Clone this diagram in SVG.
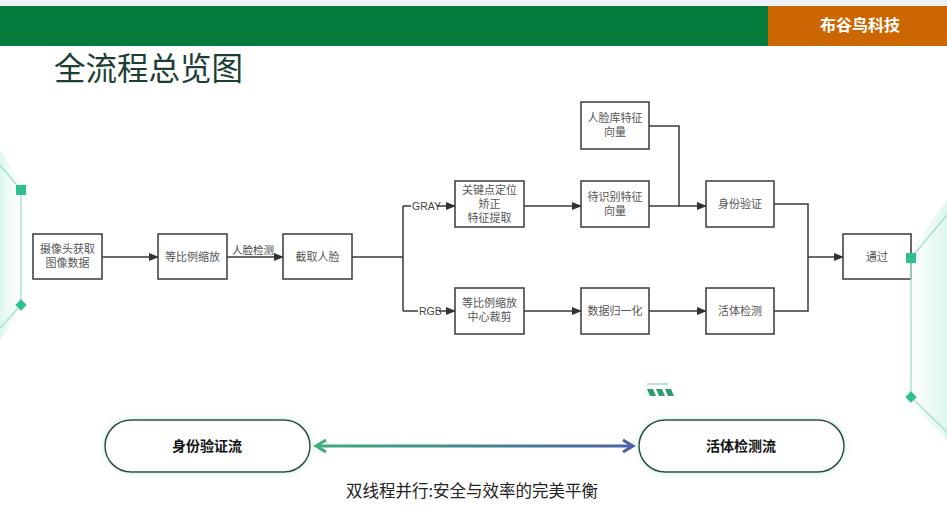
<svg xmlns="http://www.w3.org/2000/svg" width="947" height="530" viewBox="0 0 947 530">
<defs>
<style>
.box{fill:#fff;stroke:#3a3a3a;stroke-width:1.5}
.t{font-family:"Liberation Sans","Noto Sans CJK SC",sans-serif;font-size:11px;fill:#555;text-anchor:middle}
.lbl{font-family:"Liberation Sans","Noto Sans CJK SC",sans-serif;font-size:10.5px;fill:#444}
.ln{fill:none;stroke:#3a3a3a;stroke-width:1.5}
.deco{stroke:#a8e2cc;stroke-width:1.5;fill:none}
.pill{fill:#fff;stroke:#2d4a42;stroke-width:1.5}
.pt{font-family:"Noto Sans CJK SC",sans-serif;font-size:14px;font-weight:bold;fill:#111;text-anchor:middle}
</style>
<marker id="ah" markerWidth="10" markerHeight="8" refX="9" refY="4" orient="auto" markerUnits="userSpaceOnUse">
<path d="M0,0 L10,4 L0,8 z" fill="#333"/>
</marker>
<linearGradient id="grad" x1="315" y1="0" x2="635" y2="0" gradientUnits="userSpaceOnUse">
<stop offset="0" stop-color="#3fae7c"/>
<stop offset="1" stop-color="#4a5fa8"/>
</linearGradient>
<linearGradient id="gl" x1="0" y1="0" x2="1" y2="0">
<stop offset="0" stop-color="#e6f8f0" stop-opacity="0"/>
<stop offset="1" stop-color="#d8f6ea" stop-opacity="0.9"/>
</linearGradient>
<linearGradient id="glL" x1="0" y1="0" x2="1" y2="0">
<stop offset="0" stop-color="#d8f6ea" stop-opacity="0.9"/>
<stop offset="1" stop-color="#e6f8f0" stop-opacity="0"/>
</linearGradient>
<filter id="glow" x="-10%" y="-30%" width="120%" height="160%">
<feDropShadow dx="0" dy="0" stdDeviation="3" flood-color="#9fe3c6" flood-opacity="0.6"/>
</filter>
</defs>

<rect width="947" height="530" fill="#fff"/>
<rect width="947" height="6" fill="#eef2f8"/>

<!-- header -->
<g id="header">
<rect x="0" y="6" width="768" height="40" fill="#047a3c"/>
<rect x="768" y="6" width="179" height="40" fill="#cc6600"/>
<text x="860" y="31" font-family="Noto Sans CJK SC,sans-serif" font-size="16" font-weight="bold" fill="#fff" text-anchor="middle">布谷鸟科技</text>
</g>
<text x="54" y="80" font-family="Noto Sans CJK SC,sans-serif" font-size="31.5" fill="#1d3f33">全流程总览图</text>

<!-- decorations -->
<g id="deco-left">
<polygon points="0,150 22,185 22,308 0,340" fill="url(#glL)"/>
<path class="deco" d="M0,165 L21,190 L21,305 L0,328"/>
<rect x="16" y="185" width="10" height="10" fill="#2ec28a"/>
<rect x="17" y="301" width="8" height="8" fill="#2ec28a" transform="rotate(45 21 305)"/>
</g>
<g id="deco-right-bg">
<polygon points="947,200 911,250 905,400 947,440" fill="url(#gl)"/>
</g>

<!-- connectors -->
<g id="connectors">
<line class="ln" x1="102" y1="257" x2="158" y2="257" marker-end="url(#ah)"/>
<line class="ln" x1="227" y1="257" x2="283" y2="257" marker-end="url(#ah)"/>
<text class="lbl" x="232" y="254">人脸检测</text>
<path class="ln" d="M352,257 H403 M403,206 V311 M403,206 H411 M403,311 H418"/>
<text class="lbl" x="412" y="210">GRAY</text>
<text class="lbl" x="419" y="315">RGB</text>
<line class="ln" x1="437" y1="206" x2="455" y2="206" marker-end="url(#ah)"/>
<line class="ln" x1="439" y1="311" x2="455" y2="311" marker-end="url(#ah)"/>
<line class="ln" x1="524" y1="206" x2="581" y2="206" marker-end="url(#ah)"/>
<line class="ln" x1="524" y1="311" x2="581" y2="311" marker-end="url(#ah)"/>
<line class="ln" x1="649" y1="206" x2="706" y2="206" marker-end="url(#ah)"/>
<path class="ln" d="M649,126 H679 V206"/>
<line class="ln" x1="649" y1="311" x2="706" y2="311" marker-end="url(#ah)"/>
<path class="ln" d="M774,204 H808 V311 H774"/>
<line class="ln" x1="808" y1="257" x2="843" y2="257" marker-end="url(#ah)"/>
</g>

<!-- nodes -->
<g id="n-camera"><rect class="box" x="33" y="234" width="69" height="45"/><text class="t" x="67.5" y="253">摄像头获取</text><text class="t" x="67.5" y="267">图像数据</text></g>
<g id="n-scale"><rect class="box" x="158" y="234" width="69" height="45"/><text class="t" x="192.5" y="261">等比例缩放</text></g>
<g id="n-crop"><rect class="box" x="283" y="234" width="69" height="45"/><text class="t" x="317.5" y="261">截取人脸</text></g>
<g id="n-keypoint"><rect class="box" x="455" y="181" width="69" height="46"/><text class="t" x="489.5" y="194">关键点定位</text><text class="t" x="489.5" y="208">矫正</text><text class="t" x="489.5" y="222">特征提取</text></g>
<g id="n-scalecrop"><rect class="box" x="455" y="288" width="69" height="46"/><text class="t" x="489.5" y="307">等比例缩放</text><text class="t" x="489.5" y="321">中心裁剪</text></g>
<g id="n-facedb"><rect class="box" x="581" y="102" width="68" height="47"/><text class="t" x="615" y="122">人脸库特征</text><text class="t" x="615" y="136">向量</text></g>
<g id="n-feature"><rect class="box" x="581" y="181" width="68" height="46"/><text class="t" x="615" y="201">待识别特征</text><text class="t" x="615" y="215">向量</text></g>
<g id="n-norm"><rect class="box" x="581" y="288" width="68" height="46"/><text class="t" x="615" y="315">数据归一化</text></g>
<g id="n-verify"><rect class="box" x="706" y="181" width="68" height="46"/><text class="t" x="740" y="208">身份验证</text></g>
<g id="n-live"><rect class="box" x="706" y="288" width="68" height="46"/><text class="t" x="740" y="315">活体检测</text></g>
<g id="n-pass"><rect class="box" x="843" y="234" width="68" height="45"/><text class="t" x="877" y="261">通过</text></g>

<g id="deco-right">
<path class="deco" d="M947,215 L911,258 L911,397 L947,432"/>
<rect x="906" y="253" width="10" height="10" fill="#2ec28a"/>
<rect x="907" y="393" width="8" height="8" fill="#2ec28a" transform="rotate(45 911 397)"/>
</g>

<!-- bottom -->
<g id="deco-dashes">
<line x1="647" y1="384" x2="668" y2="384" stroke="#7fbfa6" stroke-width="1"/>
<polygon points="647,389 653,389 656,396 650,396" fill="#2e9e6e"/>
<polygon points="656,389 662,389 665,396 659,396" fill="#2e9e6e"/>
<polygon points="665,389 671,389 674,396 668,396" fill="#2e9e6e"/>
</g>
<g id="p-verify"><rect class="pill" x="105" y="420" width="205" height="52" rx="26" filter="url(#glow)"/><text class="pt" x="207" y="451">身份验证流</text></g>
<g id="p-live"><rect class="pill" x="639" y="420" width="205" height="52" rx="26" filter="url(#glow)"/><text class="pt" x="741" y="451">活体检测流</text></g>
<g id="dual-arrow">
<line x1="316" y1="446" x2="633" y2="446" stroke="url(#grad)" stroke-width="3"/>
<path d="M326,440 L316,446 L326,452" fill="none" stroke="#3fae7c" stroke-width="3"/>
<path d="M623,440 L633,446 L623,452" fill="none" stroke="#4a5fa8" stroke-width="3"/>
</g>
<text x="472" y="497" font-family="Noto Sans CJK SC,sans-serif" font-size="16.5" fill="#222" text-anchor="middle">双线程并行:安全与效率的完美平衡</text>
</svg>
